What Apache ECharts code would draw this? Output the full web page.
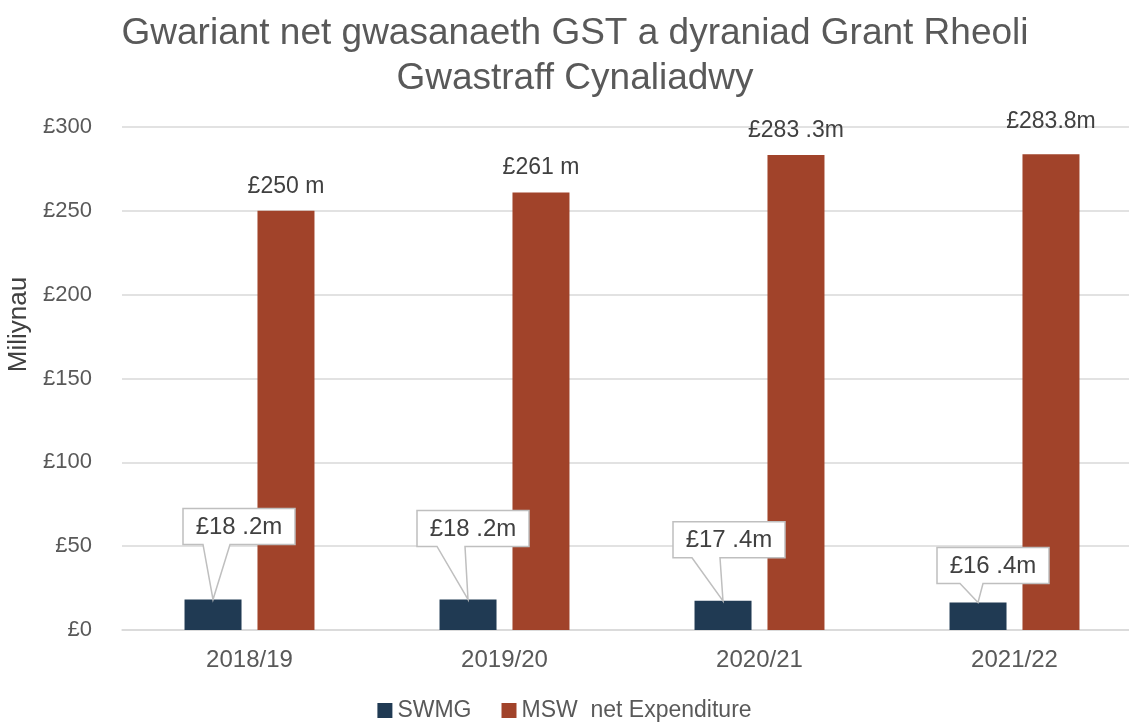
<!DOCTYPE html>
<html>
<head>
<meta charset="utf-8">
<script src="https://cdn.jsdelivr.net/npm/echarts@6/dist/echarts.min.js"></script>
<style>
  html, body { margin: 0; padding: 0; background: #fff; }
  #main { width: 1129px; height: 722px; }
</style>
</head>
<body>
<div id="main"></div>
<script>
var years = ['2018/19', '2019/20', '2020/21', '2021/22'];
var swmg = [18.2, 18.2, 17.4, 16.4];
var msw = [250, 261, 283.3, 283.8];
var swmgLabels = ['£18 .2m', '£18 .2m', '£17 .4m', '£16 .4m'];
var mswLabels = ['£250 m', '£261 m', '£283 .3m', '£283.8m'];
var yTicks = [0, 50, 100, 150, 200, 250, 300];

// callout box placement relative to the bar top: [boxLeft, boxTop, wedgeLeft, wedgeRight]
var calloutOffsets = [[-30, -91, -10, 17], [-51, -89, -31, -3], [-50, -79, -31, -3], [-41, -55, -18, 5]];

var font = '"Liberation Sans", Arial, sans-serif';
var myChart = echarts.init(document.getElementById('main'));

var option = {
  backgroundColor: '#fff',
  animation: false,
  title: {
    text: 'Gwariant net gwasanaeth GST a dyraniad Grant Rheoli\nGwastraff Cynaliadwy',
    left: 570,
    textAlign: 'center',
    top: 6,
    textStyle: { fontFamily: font, fontSize: 37, fontWeight: 'normal', color: '#595959', lineHeight: 45 }
  },
  legend: {
    data: ['SWMG', 'MSW  net Expenditure'],
    bottom: -5,
    left: 'center',
    itemWidth: 15,
    itemHeight: 15,
    itemGap: 30,
    icon: 'rect',
    textStyle: { fontFamily: font, fontSize: 23, color: '#595959' }
  },
  grid: { left: 122, right: -13, top: 127, bottom: 92, containLabel: false, outerBoundsMode: 'none' },
  xAxis: {
    type: 'category',
    data: years,
    axisLine: { lineStyle: { color: '#D9D9D9', width: 1.5 } },
    axisTick: { show: false },
    axisLabel: { fontFamily: font, fontSize: 24, color: '#595959', margin: 18 }
  },
  yAxis: {
    type: 'value',
    min: yTicks[0],
    max: yTicks[yTicks.length - 1],
    interval: 50,
    name: 'Miliynau',
    nameLocation: 'middle',
    nameGap: 82,
    nameTextStyle: { fontFamily: font, fontSize: 26, color: '#404040', padding: [0, 0, 0, 108] },
    axisLine: { show: false },
    axisTick: { show: false },
    axisLabel: { fontFamily: font, fontSize: 22, color: '#595959', margin: 30, formatter: '£{value}' },
    splitLine: { lineStyle: { color: '#D9D9D9', width: 1.5 } }
  },
  series: [
    {
      name: 'SWMG',
      type: 'bar',
      data: swmg,
      barWidth: 57,
      barGap: '28%',
      itemStyle: { color: '#203A53' }
    },
    {
      name: 'MSW  net Expenditure',
      type: 'bar',
      data: msw.map(function (v, i) {
        return { value: v, label: { distance: i === 3 ? 21 : 13 } };
      }),
      barWidth: 57,
      itemStyle: { color: '#A1432A' },
      label: {
        show: true,
        position: 'top',
        fontFamily: font,
        fontSize: 23,
        color: '#404040',
        formatter: function (p) { return mswLabels[p.dataIndex]; }
      }
    },
    {
      type: 'custom',
      clip: false,
      z: 10,
      data: swmg.map(function (v, i) { return [i, v]; }),
      renderItem: function (params, api) {
        var i = params.dataIndex;
        var p = api.coord([api.value(0), api.value(1)]);
        var tx = p[0] - 36.5, ty = p[1];
        var o = calloutOffsets[i];
        var L = tx + o[0], T = ty + o[1], R = L + 112, B = T + 36;
        return {
          type: 'group',
          children: [
            {
              type: 'polygon',
              shape: { points: [[L, T], [R, T], [R, B], [tx + o[3], B], [tx, ty], [tx + o[2], B], [L, B]] },
              style: { fill: '#fff', stroke: '#BFBFBF', lineWidth: 1.5 }
            },
            {
              type: 'text',
              style: {
                text: swmgLabels[i], x: (L + R) / 2, y: (T + B) / 2 + 1,
                align: 'center', verticalAlign: 'middle',
                font: '24px ' + font, fill: '#404040'
              }
            }
          ]
        };
      }
    }
  ]
};

myChart.setOption(option);
</script>
</body>
</html>
